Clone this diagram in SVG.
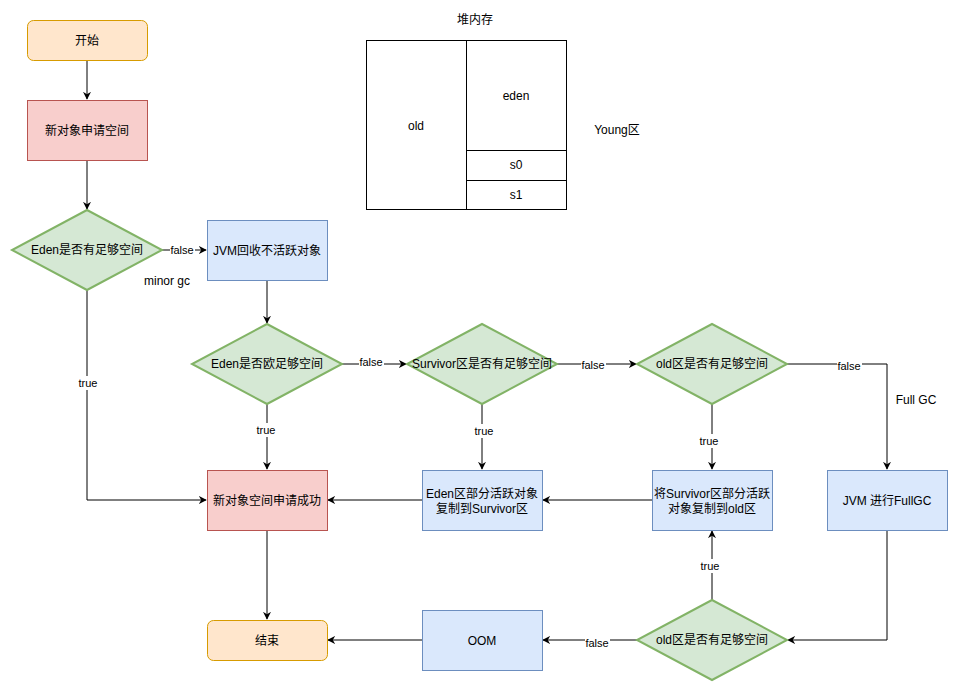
<svg xmlns="http://www.w3.org/2000/svg" width="957" height="692" viewBox="0 0 957 692">
<style>
text{font-family:"Liberation Sans","Noto Sans CJK SC",sans-serif;font-size:12px;fill:#000;text-anchor:middle;dominant-baseline:central}
.term{fill:#ffe6cc;stroke:#d79b00;stroke-width:1}
.red{fill:#f8cecc;stroke:#b85450;stroke-width:1}
.blue{fill:#dae8fc;stroke:#6c8ebf;stroke-width:1}
.dia{fill:#d5e8d4;stroke:#82b366;stroke-width:2}
.heap{fill:#fff;stroke:#000;stroke-width:1}
.edge{fill:none;stroke:#000;stroke-width:1;marker-end:url(#arr)}
.lbl{font-size:11px}
.lblbg{fill:#fff}
</style>
<defs>
<marker id="arr" viewBox="0 0 10 10" refX="9" refY="5" markerWidth="8" markerHeight="8" markerUnits="userSpaceOnUse" orient="auto">
<path d="M0,0 L10,5 L0,10 L3,5 Z" fill="#000"/>
</marker>
</defs>
<rect width="957" height="692" fill="#fff"/>

<g id="heap">
<text x="475" y="20">堆内存</text>
<rect class="heap" x="366.5" y="40.5" width="200" height="169"/>
<line x1="466.5" y1="40.5" x2="466.5" y2="209.5" stroke="#000"/>
<line x1="466.5" y1="150.5" x2="566.5" y2="150.5" stroke="#000"/>
<line x1="466.5" y1="180.5" x2="566.5" y2="180.5" stroke="#000"/>
<text x="416" y="126">old</text>
<text x="516" y="96">eden</text>
<text x="516" y="165">s0</text>
<text x="516" y="195">s1</text>
<text x="617" y="130">Young区</text>
</g>

<g id="connectors">
<path class="edge" d="M87,60 V99"/>
<path class="edge" d="M87,160 V209"/>
<path class="edge" d="M162,250 H206"/>
<path class="edge" d="M87,290 V500 H206"/>
<path class="edge" d="M267,280 V323"/>
<path class="edge" d="M267,404 V469"/>
<path class="edge" d="M342,364 H406"/>
<path class="edge" d="M482,404 V469"/>
<path class="edge" d="M557,364 H636"/>
<path class="edge" d="M712,404 V469"/>
<path class="edge" d="M787,364 H887 V469"/>
<path class="edge" d="M422,500 H328"/>
<path class="edge" d="M652,500 H543"/>
<path class="edge" d="M887,530 V640 H788"/>
<path class="edge" d="M712,600 V531"/>
<path class="edge" d="M637,640 H543"/>
<path class="edge" d="M422,640 H328"/>
<path class="edge" d="M267,530 V619"/>
<g class="labels">
<rect class="lblbg" x="170" y="243" width="25" height="14"/><text class="lbl" x="182" y="250">false</text>
<rect class="lblbg" x="78" y="376" width="21" height="14"/><text class="lbl" x="88" y="383">true</text>
<rect class="lblbg" x="256" y="423" width="21" height="14"/><text class="lbl" x="266" y="430">true</text>
<rect class="lblbg" x="359" y="355" width="25" height="14"/><text class="lbl" x="371" y="362">false</text>
<rect class="lblbg" x="473" y="424" width="21" height="14"/><text class="lbl" x="484" y="431">true</text>
<rect class="lblbg" x="581" y="358" width="25" height="14"/><text class="lbl" x="593" y="365">false</text>
<rect class="lblbg" x="699" y="434" width="21" height="14"/><text class="lbl" x="709" y="441">true</text>
<rect class="lblbg" x="837" y="359" width="25" height="14"/><text class="lbl" x="849" y="366">false</text>
<rect class="lblbg" x="700" y="559" width="21" height="14"/><text class="lbl" x="710" y="566">true</text>
<rect class="lblbg" x="585" y="636" width="25" height="14"/><text class="lbl" x="597" y="643">false</text>
</g>
</g>

<g id="start"><rect class="term" x="27.5" y="20.5" width="120" height="40" rx="6"/><text x="87" y="41">开始</text></g>
<g id="apply"><rect class="red" x="27.5" y="100.5" width="120" height="60"/><text x="87" y="131">新对象申请空间</text></g>
<g id="d1"><path class="dia" d="M87,210 L162,250 L87,290 L12,250 Z"/><text x="87" y="250">Eden是否有足够空间</text></g>
<g id="minorgc"><text x="167" y="281">minor gc</text></g>
<g id="jvmgc"><rect class="blue" x="207.5" y="220.5" width="120" height="60"/><text x="267" y="251">JVM回收不活跃对象</text></g>
<g id="d2"><path class="dia" d="M267,324 L342,364 L267,404 L192,364 Z"/><text x="267" y="364">Eden是否欧足够空间</text></g>
<g id="d3"><path class="dia" d="M482,324 L557,364 L482,404 L407,364 Z"/><text x="482" y="364">Survivor区是否有足够空间</text></g>
<g id="d4"><path class="dia" d="M712,324 L787,364 L712,404 L637,364 Z"/><text x="712" y="364">old区是否有足够空间</text></g>
<g id="fullgclabel"><text x="916" y="400">Full GC</text></g>
<g id="success"><rect class="red" x="207.5" y="470.5" width="120" height="60"/><text x="267" y="501">新对象空间申请成功</text></g>
<g id="edencopy"><rect class="blue" x="422.5" y="470.5" width="120" height="60"/><text x="482" y="494">Eden区部分活跃对象</text><text x="482" y="509">复制到Survivor区</text></g>
<g id="survcopy"><rect class="blue" x="652.5" y="470.5" width="120" height="60"/><text x="712" y="494">将Survivor区部分活跃</text><text x="712" y="509">对象复制到old区</text></g>
<g id="fullgc"><rect class="blue" x="827.5" y="470.5" width="120" height="60"/><text x="887" y="501">JVM 进行FullGC</text></g>
<g id="end"><rect class="term" x="207.5" y="620.5" width="120" height="40" rx="6"/><text x="267" y="641">结束</text></g>
<g id="oom"><rect class="blue" x="422.5" y="610.5" width="120" height="60"/><text x="482" y="641">OOM</text></g>
<g id="d5"><path class="dia" d="M712,600 L787,640 L712,680 L637,640 Z"/><text x="712" y="640">old区是否有足够空间</text></g>
</svg>
